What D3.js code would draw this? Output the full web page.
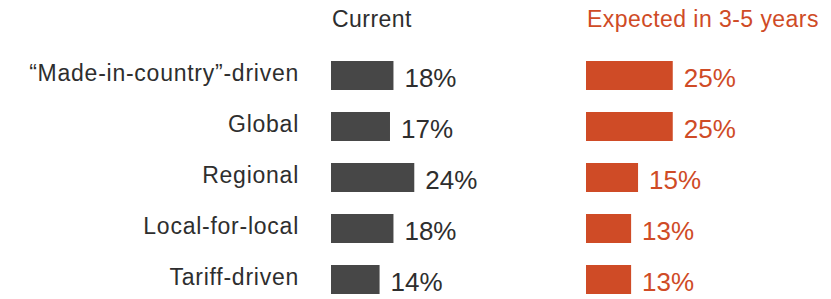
<!DOCTYPE html>
<html>
<head>
<meta charset="utf-8">
<script src="https://cdn.jsdelivr.net/npm/d3@7"></script>
<style>
  body { margin: 0; background: #fff; }
  text { font-family: "Liberation Sans", Arial, Helvetica, sans-serif; }
</style>
</head>
<body>
<script>
// Data
//= ================================
var categories = ["\u201cMade-in-country\u201d-driven", "Global", "Regional", "Local-for-local", "Tariff-driven"];
var currentValues = [18, 17, 24, 18, 14];
var expectedValues = [25, 25, 15, 13, 13];
var seriesNames = ["Current", "Expected in 3-5 years"];

var svgWidth = 831;
var svgHeight = 299;

var darkColor = "#474747";
var orangeColor = "#cf4b26";
var textColor = "#2e2e2e";

var barHeight = 29;
var columns = [
  { name: seriesNames[0], values: currentValues, x0: 331, bar: darkColor, text: textColor },
  { name: seriesNames[1], values: expectedValues, x0: 586, bar: orangeColor, text: orangeColor }
];

var svg = d3.select("body")
  .append("svg")
  .attr("width", svgWidth)
  .attr("height", svgHeight);

// scales
var yScale = d3.scalePoint()
  .domain(categories)
  .range([75.5, 279.5]);

var wScale = d3.scaleLinear()
  .domain([0, 100])
  .range([0, 347]);

// category labels
svg.append("g")
  .selectAll("text")
  .data(categories)
  .enter()
  .append("text")
  .attr("x", 299)
  .attr("y", d => yScale(d) + 5)
  .attr("text-anchor", "end")
  .attr("font-size", 23)
  .attr("letter-spacing", 0.75)
  .attr("fill", textColor)
  .text(d => d);

columns.forEach(function(col) {
  var g = svg.append("g");

  // column title
  g.append("text")
    .attr("x", col.x0 + 1)
    .attr("y", 27)
    .attr("font-size", 23)
    .attr("letter-spacing", 0.45)
    .attr("fill", col.text)
    .text(col.name);

  g.selectAll("rect")
    .data(col.values)
    .enter()
    .append("rect")
    .attr("x", col.x0)
    .attr("y", (d, i) => yScale(categories[i]) - barHeight / 2)
    .attr("width", d => wScale(d))
    .attr("height", barHeight)
    .attr("fill", col.bar);

  g.selectAll(".value")
    .data(col.values)
    .enter()
    .append("text")
    .attr("class", "value")
    .attr("x", d => col.x0 + wScale(d) + 11)
    .attr("y", (d, i) => yScale(categories[i]) + 11.5)
    .attr("font-size", 26)
    .attr("fill", col.text)
    .text(d => d + "%");
});
</script>
</body>
</html>
